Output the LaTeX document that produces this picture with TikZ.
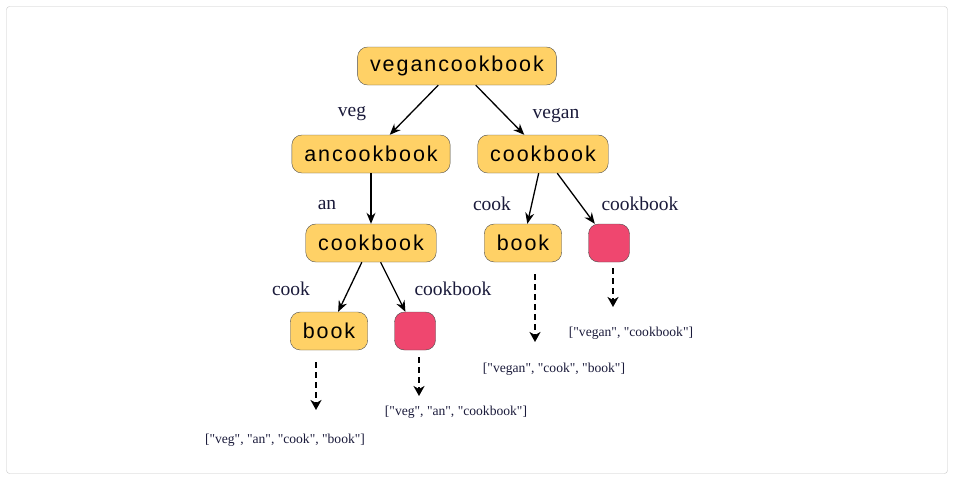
\documentclass[tikz,border=0pt]{standalone}
\usepackage{fontspec}
\setmainfont{Liberation Serif}
\newfontfamily\resfont{Liberation Serif}
\newfontfamily\keyfont[LetterSpace=9]{Liberation Sans}
\usetikzlibrary{arrows.meta}
\definecolor{keyfill}{HTML}{FFD166}
\definecolor{endfill}{HTML}{EF476F}
\definecolor{ink}{HTML}{1A1A3A}

\begin{document}
\begin{tikzpicture}
        [x=1pt, y=-1pt,
        trie/.style={draw=black!70, fill=keyfill, rounded corners=10pt, minimum height=38pt,
           inner xsep=12.5pt, font=\keyfont\fontsize{21.5}{24}\selectfont},
        leaf/.style={draw=black!70, fill=endfill, rounded corners=10pt, minimum width=41pt, minimum height=38pt},
        arr/.style={-{Stealth[length=11pt,width=9pt]}, line width=1.3pt},
        dasharr/.style={-{Stealth[length=10pt,width=11pt,inset=3pt]}, dash pattern=on 6pt off 4pt, line width=1.7pt},
        lbl/.style={anchor=base, text=ink, inner sep=0pt, font=\fontsize{19.5}{22}\selectfont},
        res/.style={anchor=base, text=ink, inner sep=0pt, font=\resfont\fontsize{13.6}{16}\selectfont}]
        \useasboundingbox (0,0) rectangle (954,480);
        \draw[black!22, rounded corners=3pt] (6.5,6.5) rectangle (947.5,473.5);
        % bottom level
        \node (BkL) at (329,331) [trie] {book};
        \node (EndL) at (415,331) [leaf] {};
        \node (BkR) at (523,243) [trie] {book};
        \node (EndR) at (609,243) [leaf] {};
        \node (CkL) at (371,243) [trie] {cookbook}
           edge[arr] (BkL)
           edge[arr] (EndL);
        \node (AnCk) at (371,154) [trie] {ancookbook}
           edge[arr] (CkL);
        \node (CkR) at (543,154) [trie] {cookbook}
           edge[arr] (BkR)
           edge[arr] (EndR);
        \node (Root) at (457,66) [trie] {vegancookbook}
           edge[arr] (AnCk)
           edge[arr] (CkR);
        % edge labels
        \node (lVeg) at (352,116) [lbl] {veg};
        \node (lVegan) at (556,118) [lbl] {vegan};
        \node (lAn) at (327,209) [lbl] {an};
        \node (lCookR) at (492,210) [lbl] {cook};
        \node (lCkbkR) at (640,210) [lbl] {cookbook};
        \node (lCookL) at (291,295) [lbl] {cook};
        \node (lCkbkL) at (453,295) [lbl] {cookbook};
        % results
        \coordinate (dBkL) at (316,362);   \coordinate (tBkL) at (316,410);
        \coordinate (dEndL) at (419,357);  \coordinate (tEndL) at (419,396);
        \coordinate (dBkR) at (535,274);   \coordinate (tBkR) at (535,342);
        \coordinate (dEndR) at (613,268);  \coordinate (tEndR) at (613,307);
        \path (dBkL) edge[dasharr] (tBkL);
        \path (dEndL) edge[dasharr] (tEndL);
        \path (dBkR) edge[dasharr] (tBkR);
        \path (dEndR) edge[dasharr] (tEndR);
        \node (rBkL) at (285,443) [res] {["veg", "an", "cook", "book"]};
        \node (rEndL) at (456,415.5) [res] {["veg", "an", "cookbook"]};
        \node (rBkR) at (554,372.5) [res] {["vegan", "cook", "book"]};
        \node (rEndR) at (631,336.5) [res] {["vegan", "cookbook"]};
     \end{tikzpicture}
\end{document}
